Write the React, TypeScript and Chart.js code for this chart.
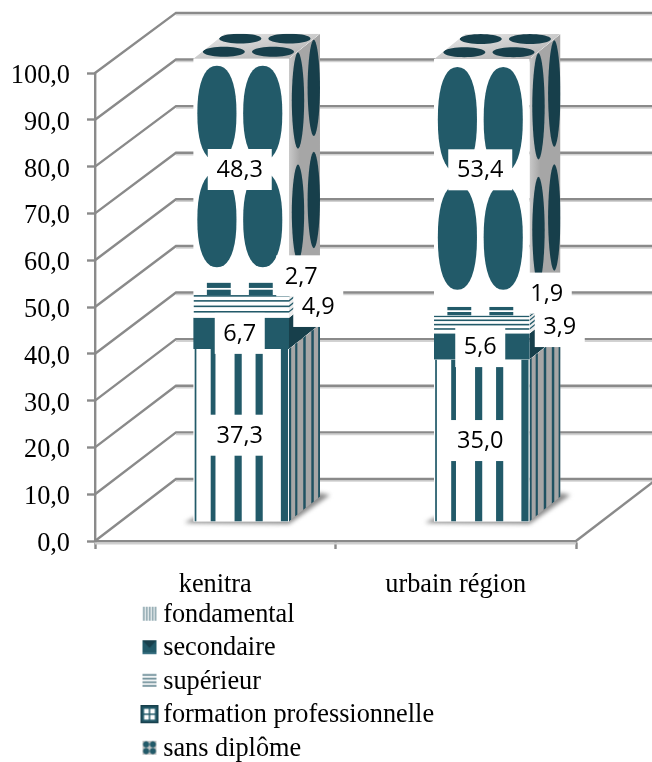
import React, { useEffect, useRef } from "react";
import { Chart, registerables } from "chart.js";

Chart.register(...registerables);

const categories = ["kenitra", "urbain région"];
const seriesNames = ["fondamental", "secondaire", "supérieur", "formation professionnelle", "sans diplôme"];
const fondamental = [37.3, 35.0];
const secondaire = [6.7, 5.6];
const superieur = [4.9, 3.9];
const formation = [2.7, 1.9];
const sansDiplome = [48.3, 53.4];
const yTicks = [0, 10, 20, 30, 40, 50, 60, 70, 80, 90, 100];

const INK = "#225a69";
const INK_DARK = "#173f4b";
const GRAY = "#a6a6a6";
const AXIS = "#8a8a8a";
const SERIF = "'Liberation Serif', serif";
const SANS = "'Open Sans', sans-serif";
const TEXT_SIZE = 26.3;

// 3D projection of the chart, in pixels
const WALL_X = 81;
const WALL_Y = -62;
const WALL_K = 0.996;
const FACE_X = 26;
const FACE_Y = -19;
const FACE_K = 0.9915;
const DEPTH_X = 31;
const DEPTH_Y = -25;

// manual label displacement, one per series then per category
const labelShift = [
  [[-1.5, 0], [-1.5, 0]],
  [[-1.5, 0], [-1.5, 0]],
  [[77, 0], [78, 2]],
  [[60, -13], [65, -18]],
  [[-1.5, -1], [-1.5, -13]],
];

type C = CanvasRenderingContext2D;
type Paint = (ctx: C, w: number, h: number) => void;

// shearU / shearV cancel the skew of the face, so that the oval stays upright
function blob(
  ctx: C,
  cx: number,
  cy: number,
  rx: number,
  ry: number,
  n = 2.3,
  shearU = 0,
  shearV = 0
) {
  ctx.beginPath();
  for (let i = 0; i < 40; i++) {
    const a = (i / 40) * Math.PI * 2;
    const c = Math.cos(a);
    const s = Math.sin(a);
    const dx = rx * Math.sign(c) * Math.pow(Math.abs(c), 2 / n);
    const dy = ry * Math.sign(s) * Math.pow(Math.abs(s), 2 / n);
    const x = cx + dx - dy * shearU;
    const y = cy + dy - dx * shearV;
    if (i === 0) ctx.moveTo(x, y);
    else ctx.lineTo(x, y);
  }
  ctx.closePath();
  ctx.fill();
}

function vbars(ctx: C, list: number[][], color: string) {
  ctx.fillStyle = color;
  list.forEach(([a, b]) => ctx.fillRect(a, 0, b - a, 1));
}
function bg(ctx: C, color: string | CanvasGradient) {
  ctx.fillStyle = color;
  ctx.fillRect(0, 0, 1, 1);
}

const frontPaint: Paint[] = [
  (ctx) => {
    bg(ctx, "#ffffff");
    vbars(ctx, [[0.012, 0.03], [0.18, 0.23], [0.43, 0.505], [0.65, 0.725], [0.915, 0.99]], INK);
  },
  (ctx) => bg(ctx, INK),
  (ctx, _w, h) => {
    bg(ctx, "#ffffff");
    ctx.fillStyle = INK;
    [0.0, 0.22, 0.46, 0.7].forEach((v) => ctx.fillRect(0, v, 1, 1.6 / h));
  },
  (ctx, _w, h) => {
    bg(ctx, "#ffffff");
    ctx.fillStyle = INK;
    ctx.fillRect(0.14, 0, 0.25, 1);
    ctx.fillRect(0.58, 0, 0.25, 1);
    ctx.fillStyle = "#ffffff";
    ctx.fillRect(0, 0.5 - 0.9 / h, 1, 1.8 / h);
  },
  (ctx) => {
    bg(ctx, "#ffffff");
    ctx.fillStyle = INK;
    [0.245, 0.725].forEach((u) =>
      [0.245, 0.72].forEach((v) => blob(ctx, u, v, 0.205, 0.212))
    );
  },
];

const sidePaint: Paint[] = [
  (ctx) => {
    bg(ctx, GRAY);
    vbars(ctx, [[0, 0.07], [0.2, 0.27], [0.46, 0.54], [0.72, 0.8], [0.94, 1]], "#1f5262");
  },
  (ctx) => bg(ctx, INK_DARK),
  (ctx, _w, h) => {
    bg(ctx, "#ececec");
    ctx.fillStyle = INK;
    [0.0, 0.22, 0.46, 0.7].forEach((v) => ctx.fillRect(0, v, 1, 1.6 / h));
  },
  (ctx) => {
    bg(ctx, GRAY);
    ctx.fillStyle = INK_DARK;
    ctx.fillRect(0.14, 0, 0.25, 1);
    ctx.fillRect(0.58, 0, 0.25, 1);
  },
  (ctx, _w, h) => {
    const g = ctx.createLinearGradient(0, 0, 1, 0);
    g.addColorStop(0, "#c9c9c9");
    g.addColorStop(0.35, GRAY);
    g.addColorStop(1, GRAY);
    bg(ctx, g);
    ctx.fillStyle = INK_DARK;
    [0.29, 0.8].forEach((u) =>
      [0.22, 0.72].forEach((v) => blob(ctx, u, v, 0.2, 0.215, 1.9, 0, DEPTH_Y / h))
    );
  },
];

const topPaint: Paint = (ctx, w) => {
  const g = ctx.createLinearGradient(0, 1, 1, 0);
  g.addColorStop(0, "#e4e4e4");
  g.addColorStop(1, "#b4b4b4");
  bg(ctx, g);
  ctx.fillStyle = INK_DARK;
  [0.23, 0.745].forEach((u) =>
    [0.27, 0.8].forEach((v) => blob(ctx, u, v, 0.22, 0.2, 2, DEPTH_X / w))
  );
};

function quad(
  ctx: C,
  ox: number,
  oy: number,
  ux: number,
  uy: number,
  vx: number,
  vy: number,
  paint: Paint
) {
  ctx.save();
  ctx.beginPath();
  ctx.moveTo(ox, oy);
  ctx.lineTo(ox + ux, oy + uy);
  ctx.lineTo(ox + ux + vx, oy + uy + vy);
  ctx.lineTo(ox + vx, oy + vy);
  ctx.closePath();
  ctx.clip();
  ctx.transform(ux, uy, vx, vy, ox, oy);
  paint(ctx, Math.hypot(ux, uy), Math.hypot(vx, vy));
  ctx.restore();
}

function makeSwatch(index: number): HTMLCanvasElement {
  const cv = document.createElement("canvas");
  cv.width = 22;
  cv.height = 20;
  const ctx = cv.getContext("2d") as C;
  const big = index === 3;
  const s = big ? 18 : 14;
  const x = big ? 3 : 5;
  const y = big ? 0 : 2;
  ctx.save();
  ctx.translate(x, y);
  ctx.scale(s, s);
  if (index === 0) {
    bg(ctx, "#ffffff");
    vbars(ctx, [[0.05, 0.15], [0.26, 0.36], [0.47, 0.57], [0.68, 0.78], [0.88, 0.98]], "#6f8f99");
  } else if (index === 1) {
    bg(ctx, INK);
    ctx.fillStyle = INK_DARK;
    ctx.beginPath();
    ctx.moveTo(0, 0);
    ctx.lineTo(1, 0);
    ctx.lineTo(0.5, 0.55);
    ctx.closePath();
    ctx.fill();
    ctx.fillStyle = "#3d7485";
    ctx.fillRect(0, 0.88, 1, 0.12);
  } else if (index === 2) {
    bg(ctx, "#ffffff");
    ctx.fillStyle = "#6f8f99";
    [0.02, 0.28, 0.54, 0.8].forEach((v) => ctx.fillRect(0, v, 1, 0.13));
  } else if (index === 3) {
    bg(ctx, INK);
    ctx.fillStyle = "#ffffff";
    ctx.fillRect(0.2, 0.2, 0.26, 0.26);
    ctx.fillRect(0.54, 0.2, 0.26, 0.26);
    ctx.fillRect(0.2, 0.54, 0.26, 0.26);
    ctx.fillRect(0.54, 0.54, 0.26, 0.26);
    ctx.strokeStyle = INK_DARK;
    ctx.lineWidth = 0.08;
    ctx.strokeRect(0.04, 0.04, 0.92, 0.92);
  } else {
    bg(ctx, "#c4c4c4");
    ctx.fillStyle = INK;
    [0.26, 0.74].forEach((u) =>
      [0.26, 0.74].forEach((v) => blob(ctx, u, v, 0.22, 0.22, 2))
    );
  }
  ctx.restore();
  return cv;
}

const fr = (v: number) => v.toFixed(1).replace(".", ",");

const chart3d = {
  id: "chart3d",
  afterLayout(chart: any) {
    const l = chart.legend;
    if (!l) return;
    const pad = l.options.labels.padding;
    l.left = 147 - pad;
    l.top = 594.4;
    l.right = 652;
    l.bottom = 900;
    l.width = l.right - l.left;
    l.height = l.bottom - l.top;
    l.adjustHitBoxes();
  },
  beforeDatasetsDraw(chart: any) {
    const { ctx, chartArea, scales } = chart;
    const { left, right, bottom } = chartArea;
    const yScale = scales.y;
    ctx.save();
    // walls
    const back = (y: number) => bottom + WALL_Y - (bottom - y) * WALL_K;
    yTicks.forEach((t: number) => {
      const y = yScale.getPixelForValue(t);
      const by = back(y);
      ctx.strokeStyle = "#d2d2d2";
      ctx.lineWidth = 1.5;
      ctx.beginPath();
      ctx.moveTo(left + WALL_X, by + 2);
      ctx.lineTo(right + WALL_X, by + 2);
      ctx.stroke();
      ctx.strokeStyle = AXIS;
      ctx.lineWidth = 2.4;
      ctx.beginPath();
      ctx.moveTo(left, y);
      ctx.lineTo(left + WALL_X, by);
      ctx.lineTo(right + WALL_X, by);
      ctx.stroke();
    });
    ctx.strokeStyle = AXIS;
    ctx.lineWidth = 2.4;
    ctx.beginPath();
    ctx.moveTo(right, bottom);
    ctx.lineTo(right + WALL_X, bottom + WALL_Y);
    ctx.stroke();
    ctx.strokeStyle = "#cfcfcf";
    ctx.lineWidth = 2;
    ctx.beginPath();
    ctx.moveTo(left, bottom + 2.4);
    ctx.lineTo(right, bottom + 2.4);
    ctx.stroke();
    ctx.restore();

    // floor shadows
    const first = chart.getDatasetMeta(0).data;
    ctx.save();
    ctx.filter = "blur(2px)";
    ctx.fillStyle = "#8c8c8c";
    first.forEach((el: any) => {
      const x0 = el.x - el.width / 2 + FACE_X;
      const x1 = el.x + el.width / 2 + FACE_X;
      const b = bottom + FACE_Y;
      ctx.beginPath();
      ctx.moveTo(x0 - 9, b + 1);
      ctx.lineTo(x1, b + 2);
      ctx.lineTo(x1 + DEPTH_X + 10, b + DEPTH_Y - 2);
      ctx.lineTo(x1 + DEPTH_X, b + DEPTH_Y - 4);
      ctx.lineTo(x0, b - 4);
      ctx.closePath();
      ctx.fill();
    });
    ctx.restore();

    // all bars are drawn on the floor position of the box
    ctx.save();
    ctx.transform(1, 0, 0, FACE_K, FACE_X, bottom + FACE_Y - bottom * FACE_K);
  },
  afterDatasetsDraw(chart: any) {
    const { ctx } = chart;
    const count = chart.data.datasets.length;
    for (let d = 0; d < count; d++) {
      chart.getDatasetMeta(d).data.forEach((el: any) => {
        const x0 = el.x - el.width / 2;
        const h = el.base - el.y;
        quad(ctx, x0 + el.width, el.y, DEPTH_X, DEPTH_Y, 0, h, sidePaint[d]);
        quad(ctx, x0, el.y, el.width, 0, 0, h, frontPaint[d]);
        if (d === count - 1) {
          quad(ctx, x0, el.y, el.width, 0, DEPTH_X, DEPTH_Y, topPaint);
        }
      });
    }
    ctx.restore();

    // value labels
    const bottom = chart.chartArea.bottom;
    const mapY = (y: number) => y * FACE_K + bottom + FACE_Y - bottom * FACE_K;
    ctx.save();
    ctx.font = `23.5px ${SANS}`;
    ctx.textAlign = "center";
    ctx.textBaseline = "middle";
    for (let d = 0; d < count; d++) {
      chart.getDatasetMeta(d).data.forEach((el: any, i: number) => {
        const text = fr(chart.data.datasets[d].data[i]);
        const cx = el.x + FACE_X + labelShift[d][i][0];
        const cy = mapY((el.y + el.base) / 2) + labelShift[d][i][1];
        const bw = text.length === 4 ? 64 : 50;
        ctx.fillStyle = "#ffffff";
        ctx.fillRect(cx - bw / 2, cy - 20.5, bw, 41);
        ctx.fillStyle = "#000000";
        ctx.fillText(text, cx, cy + 1);
      });
    }
    ctx.restore();
  },
};

export default function App() {
  const ref = useRef<HTMLCanvasElement>(null);
  useEffect(() => {
    if (!ref.current) return;
    const swatches = seriesNames.map((_, i) => makeSwatch(i));
    const values = [fondamental, secondaire, superieur, formation, sansDiplome];
    const chart = new Chart(ref.current, {
      type: "bar",
      data: {
        labels: categories,
        datasets: seriesNames.map((name, i) => ({
          label: name,
          data: values[i],
          backgroundColor: i === 1 ? INK : "#ffffff",
          borderWidth: 0,
          barPercentage: 0.397,
          categoryPercentage: 1,
          clip: false as any,
        })),
      },
      options: {
        responsive: false,
        animation: false,
        devicePixelRatio: 1,
        layout: { padding: { left: 0, top: 73, right: 76, bottom: 0 } },
        scales: {
          x: {
            stacked: true,
            afterFit: (s: any) => {
              s.height = 221;
            },
            border: { color: AXIS, width: 2.4 },
            grid: { drawOnChartArea: false, drawTicks: true, tickLength: 8, tickColor: AXIS, tickWidth: 2.4 },
            ticks: { color: "#000", font: { family: SERIF, size: TEXT_SIZE }, padding: 20, maxRotation: 0 },
          },
          y: {
            stacked: true,
            min: 0,
            max: 100,
            afterFit: (s: any) => {
              s.width = 95;
            },
            afterBuildTicks: (s: any) => {
              s.ticks = yTicks.map((value) => ({ value }));
            },
            border: { color: AXIS, width: 2.4 },
            grid: { drawOnChartArea: false, drawTicks: true, tickLength: 8, tickColor: AXIS, tickWidth: 2.4 },
            ticks: {
              color: "#000",
              font: { family: SERIF, size: TEXT_SIZE },
              padding: 17,
              labelOffset: 3,
              callback: (v: any) => fr(Number(v)),
            },
          },
        },
        plugins: {
          tooltip: { enabled: false },
          title: { display: false },
          legend: {
            display: true,
            position: "chartArea" as any,
            align: "start",
            labels: {
              usePointStyle: true,
              boxWidth: 3,
              padding: 7.2,
              color: "#000",
              font: { family: SERIF, size: TEXT_SIZE },
              generateLabels: () =>
                seriesNames.map((text, i) => ({
                  text,
                  datasetIndex: i,
                  hidden: false,
                  fillStyle: INK,
                  strokeStyle: "transparent",
                  lineWidth: 0,
                  pointStyle: swatches[i],
                })),
            },
          },
        },
      },
      plugins: [chart3d as any],
    });
    return () => chart.destroy();
  }, []);
  return (
    <div style={{ position: "absolute", left: 0, top: 0, width: 652, height: 762, background: "#fff" }}>
      <canvas ref={ref} width={652} height={762} style={{ display: "block" }} />
    </div>
  );
}
